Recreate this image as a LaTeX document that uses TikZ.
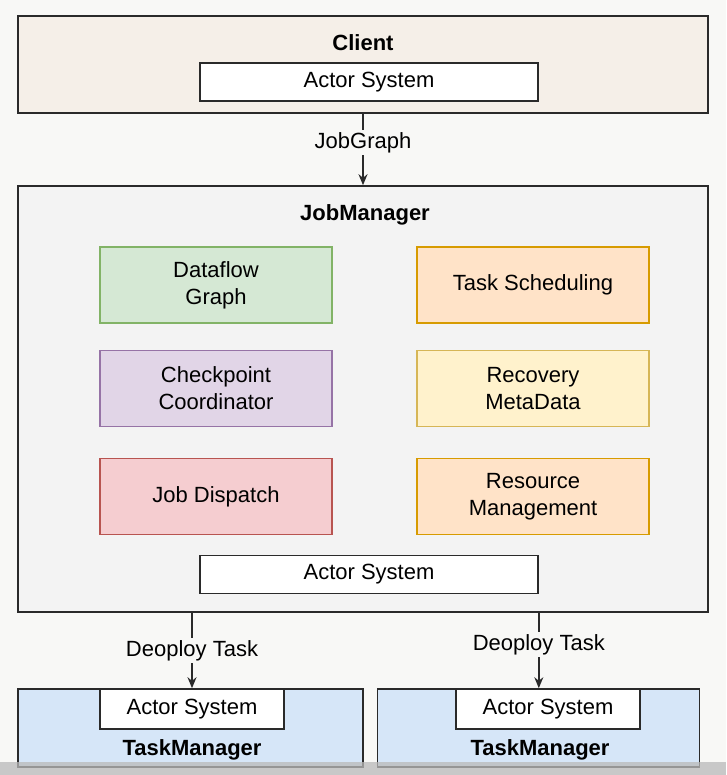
\documentclass[tikz,border=0pt]{standalone}
\usepackage{fontspec}
\setmainfont{Liberation Sans}
\usetikzlibrary{arrows.meta}
\definecolor{pagebg}{HTML}{F8F8F6}
\definecolor{clientfill}{HTML}{F5EFE8}
\definecolor{jmfill}{HTML}{F3F3F3}
\definecolor{tmfill}{HTML}{D6E6F8}
\definecolor{greenfill}{HTML}{D5E8D4}
\definecolor{greenline}{HTML}{82B366}
\definecolor{orangefill}{HTML}{FFE3C8}
\definecolor{orangeline}{HTML}{D79B00}
\definecolor{purplefill}{HTML}{E1D5E7}
\definecolor{purpleline}{HTML}{9673A6}
\definecolor{yellowfill}{HTML}{FFF2CC}
\definecolor{yellowline}{HTML}{D6B656}
\definecolor{redfill}{HTML}{F5CDD0}
\definecolor{redline}{HTML}{B85450}
\definecolor{edge}{HTML}{2A2A2A}
\tikzset{
  txt/.style={font=\fontsize{22}{27}\selectfont, align=center},
  title/.style={font=\fontsize{22}{27}\selectfont\bfseries},
  outer/.style={draw=edge, line width=1.6pt, inner sep=0pt},
  actor/.style={outer, fill=white, txt, minimum width=338pt, minimum height=38pt},
  tmactor/.style={outer, fill=white, txt, minimum width=184pt, minimum height=40pt},
  part/.style={line width=1.6pt, inner sep=0pt, txt, minimum width=232pt, minimum height=76pt},
  flow/.style={draw=edge, line width=1.6pt, -{Stealth[length=11pt,width=9pt]}},
  lbl/.style={txt, fill=pagebg, inner sep=2pt}
}
\begin{document}
\begin{tikzpicture}[x=1pt,y=-1pt]
\useasboundingbox[fill=pagebg] (0,0) rectangle (726,775);

\node[outer, fill=clientfill, minimum width=690pt, minimum height=97pt] (client) at (363,64.5) {};
\node[title] (clienttitle) at (363,43) {Client};
\node[actor] (clientas) at (369,82) {Actor System};

\node[outer, fill=jmfill, minimum width=690pt, minimum height=426pt] (jm) at (363,399) {};
\node[title] (jmtitle) at (365,215) {JobManager};

\node[part, fill=greenfill, draw=greenline] (dataflow) at (216,285) {Dataflow\\Graph};
\node[part, fill=orangefill, draw=orangeline] (sched) at (533,285) {Task Scheduling};
\node[part, fill=purplefill, draw=purpleline] (checkpoint) at (216,388.5) {Checkpoint\\Coordinator};
\node[part, fill=yellowfill, draw=yellowline] (recovery) at (533,388.5) {Recovery\\MetaData};
\node[part, fill=redfill, draw=redline] (dispatch) at (216,496.5) {Job Dispatch};
\node[part, fill=orangefill, draw=orangeline] (resource) at (533,496.5) {Resource\\Management};

\node[actor] (jmas) at (369,574.5) {Actor System};

\node[outer, fill=tmfill, minimum width=345pt, minimum height=78pt] (tml) at (190.5,728) {};
\node[tmactor] (tmlas) at (192,709) {Actor System};
\node[title] (tmltitle) at (192,750) {TaskManager};

\node[outer, fill=tmfill, minimum width=322pt, minimum height=78pt] (tmr) at (538.5,728) {};
\node[tmactor] (tmras) at (548,709) {Actor System};
\node[title] (tmrtitle) at (540,750) {TaskManager};

\draw[flow] (client.south) -- (jm.north) node[lbl, pos=0.4] (jglbl) {JobGraph};
\draw[flow] (tmlas.north |- jm.south) -- (tmlas.north) node[lbl, pos=0.5] (dtl) {Deoploy Task};
\draw[flow] (jmas.east |- jm.south) -- (jmas.east |- tmr.north) node[lbl, pos=0.42] (dtr) {Deoploy Task};

\fill[gray!55, opacity=0.75] (0,762) rectangle (726,775);
\end{tikzpicture}
\end{document}
